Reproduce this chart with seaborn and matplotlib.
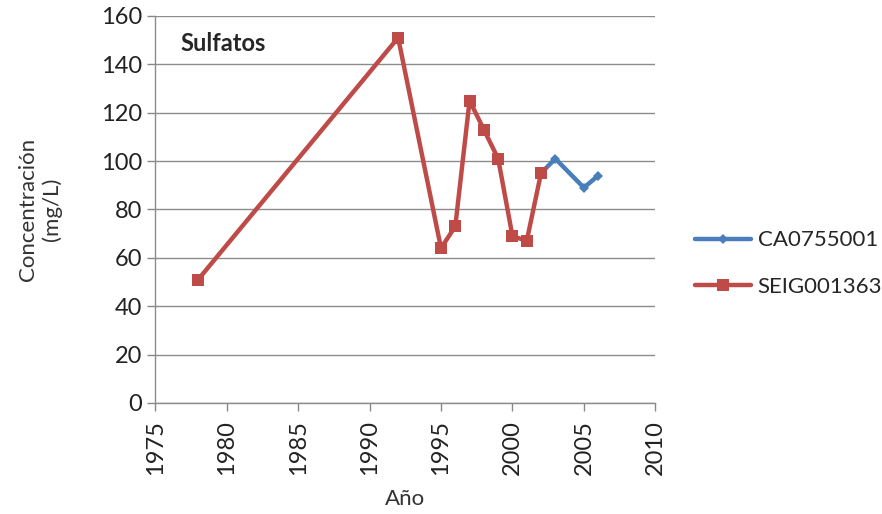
import pandas as pd
import numpy as np
import seaborn as sns
import matplotlib.pyplot as plt

# data
years_ca = [2002, 2003, 2005, 2006]
vals_ca = [95, 101, 89, 94]
years_seig = [1978, 1992, 1995, 1996, 1997, 1998, 1999, 2000, 2001, 2002]
vals_seig = [51, 151, 64, 73, 125, 113, 101, 69, 67, 95]
x_ticks = [1975, 1980, 1985, 1990, 1995, 2000, 2005, 2010]
y_ticks = [0, 20, 40, 60, 80, 100, 120, 140, 160]

sns.set_style("white")
plt.rcParams['font.family'] = ['Lato', 'DejaVu Sans']

df_ca = pd.DataFrame({'Año': years_ca, 'val': vals_ca})
df_seig = pd.DataFrame({'Año': years_seig, 'val': vals_seig})

fig = plt.figure(figsize=(8.82, 5.14), dpi=100)
ax = fig.add_axes([0.176, 0.216, 0.567, 0.753])

sns.lineplot(data=df_ca, x='Año', y='val', ax=ax, color='#4A7EBB', lw=3.2,
             marker='D', markersize=5, markeredgewidth=0, label='CA0755001')
sns.lineplot(data=df_seig, x='Año', y='val', ax=ax, color='#BE4B48', lw=3.2,
             marker='s', markersize=8, markeredgewidth=0, label='SEIG001363')

ax.set_xlim(1975, 2010)
ax.set_ylim(0, 160)
ax.set_xticks(x_ticks)
ax.set_yticks(y_ticks)
ax.set_xticklabels([str(t) for t in x_ticks], rotation=90)
ax.tick_params(axis='both', labelsize=17, length=6, width=1, direction='out',
               left=True, bottom=True, colors='#888888', labelcolor='#222222')
ax.tick_params(axis='x', pad=6)
ax.grid(axis='y', color='#8c8c8c', lw=1)
ax.set_axisbelow(True)
for s in ['top', 'right']:
    ax.spines[s].set_visible(False)
for s in ['left', 'bottom']:
    ax.spines[s].set_color('#8c8c8c')
    ax.spines[s].set_linewidth(1)

ax.set_xlabel('Año', fontsize=16, color='#333333', labelpad=10)
ax.set_ylabel('Concentración\n(mg/L)', fontsize=16, color='#333333', labelpad=28)
ax.text(0.05, 0.93, 'Sulfatos', transform=ax.transAxes, fontsize=17,
        fontweight='bold', ha='left', va='center')

ax.legend(loc='center left', bbox_to_anchor=(1.04, 0.36), frameon=False,
          fontsize=16, handlelength=2.5, labelspacing=1.2, handletextpad=0.3)

fig.savefig('out.png', dpi=100)
